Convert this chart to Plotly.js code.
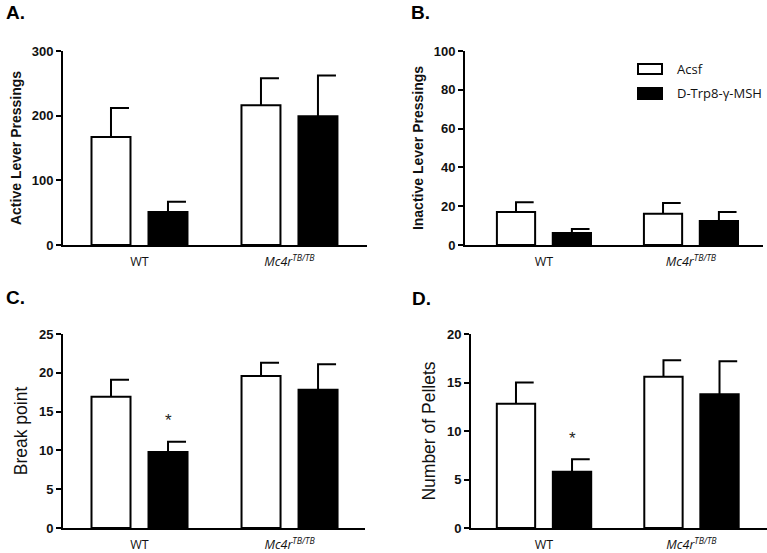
<!DOCTYPE html>
<html>
<head>
<meta charset="utf-8">
<script src="https://cdn.plot.ly/plotly-3.0.1.min.js"></script>
<style>html,body{margin:0;padding:0;background:#fff;}#chart{width:767px;height:553px;}</style>
</head>
<body>
<div id="chart"></div>
<script>
// ---- data ----
const categories = ['WT', '<i>Mc4r<sup>TB/TB</sup></i>'];
const seriesNames = ['Acsf', 'D-Trp8-γ-MSH'];

const activeAcsf = [167, 216];
const activeAcsfErr = [45, 42];
const activeTrp = [51, 199];
const activeTrpErr = [16, 63];

const inactiveAcsf = [17, 16.1];
const inactiveAcsfErr = [5, 5.5];
const inactiveTrp = [6.2, 12.4];
const inactiveTrpErr = [2, 4.6];

const breakAcsf = [16.9, 19.6];
const breakAcsfErr = [2.2, 1.7];
const breakTrp = [9.8, 17.8];
const breakTrpErr = [1.3, 3.3];

const pelletsAcsf = [12.8, 15.6];
const pelletsAcsfErr = [2.2, 1.7];
const pelletsTrp = [5.8, 13.8];
const pelletsTrpErr = [1.3, 3.4];

const yTitles = ['Active Lever Pressings', 'Inactive Lever Pressings', 'Break point', 'Number of Pellets'];
const panelLabels = ['A.', 'B.', 'C.', 'D.'];

// ---- layout helpers ----
const W = 767, H = 553;
const BW = 0.26, OFF = 0.19, CAP = 0.12;
const catX = [0, 1];

const panels = [
  {a: activeAcsf, ae: activeAcsfErr, t: activeTrp, te: activeTrpErr, yr: [0, 300], dt: 100,
   px: [63, 367], py: [51, 245], xr: [-0.51, 1.517], bold: true, tsize: 14},
  {a: inactiveAcsf, ae: inactiveAcsfErr, t: inactiveTrp, te: inactiveTrpErr, yr: [0, 100], dt: 20,
   px: [465, 763], py: [51, 245], xr: [-0.537, 1.49], bold: true, tsize: 14},
  {a: breakAcsf, ae: breakAcsfErr, t: breakTrp, te: breakTrpErr, yr: [0, 25], dt: 5,
   px: [63, 365], py: [334, 528], xr: [-0.51, 1.503], bold: false, tsize: 17.5, star: true},
  {a: pelletsAcsf, ae: pelletsAcsfErr, t: pelletsTrp, te: pelletsTrpErr, yr: [0, 20], dt: 5,
   px: [471, 767], py: [334, 528], xr: [-0.495, 1.512], bold: false, tsize: 17.5, star: true}
];

const traces = [];
const layout = {
  width: W, height: H,
  margin: {l: 0, r: 0, t: 0, b: 0},
  paper_bgcolor: '#fff', plot_bgcolor: 'rgba(0,0,0,0)',
  showlegend: false,
  annotations: [],
  shapes: [],
  font: {family: 'Liberation Sans, Arial', color: '#111'}
};

function errPath(xs, vals, errs) {
  const x = [], y = [];
  for (let i = 0; i < vals.length; i++) {
    x.push(xs[i], xs[i], xs[i] + CAP, null);
    y.push(vals[i], vals[i] + errs[i], vals[i] + errs[i], null);
  }
  return {x, y};
}

const labelPos = [[4, 12], [409, 12], [4, 297], [410, 298]];

panels.forEach((p, k) => {
  const sfx = k === 0 ? '' : String(k + 1);
  const xa = 'x' + sfx, ya = 'y' + sfx;
  const xsA = catX.map(c => c - OFF);
  const xsT = catX.map(c => c + OFF);
  traces.push({type: 'bar', x: xsA, y: p.a, width: BW, xaxis: xa, yaxis: ya,
    name: seriesNames[0],
    marker: {color: '#ffffff', line: {color: '#000', width: 2}}, hoverinfo: 'skip'});
  traces.push({type: 'bar', x: xsT, y: p.t, width: BW, xaxis: xa, yaxis: ya,
    name: seriesNames[1],
    marker: {color: '#000000', line: {color: '#000', width: 2}}, hoverinfo: 'skip'});
  const eA = errPath(xsA, p.a, p.ae);
  const eT = errPath(xsT, p.t, p.te);
  [eA, eT].forEach(e => traces.push({type: 'scatter', mode: 'lines', x: e.x, y: e.y,
    xaxis: xa, yaxis: ya, hoverinfo: 'skip', cliponaxis: false,
    line: {color: '#000', width: 2}}));

  layout['xaxis' + sfx] = {
    domain: [p.px[0] / W, p.px[1] / W], range: p.xr, anchor: ya,
    showgrid: false, zeroline: false, showline: true, linecolor: '#000', linewidth: 2,
    ticks: 'outside', ticklen: 4, tickcolor: 'rgba(0,0,0,0)',
    tickmode: 'array', tickvals: catX, ticktext: categories,
    tickfont: {family: 'Open Sans, Liberation Sans, Arial', size: 12.5, color: '#111'},
    fixedrange: true
  };
  layout['yaxis' + sfx] = {
    domain: [1 - p.py[1] / H, 1 - p.py[0] / H], range: p.yr, anchor: xa,
    showgrid: false, zeroline: false, showline: true, linecolor: '#000', linewidth: 2,
    ticks: 'outside', ticklen: 5, tickwidth: 2, tickcolor: '#000', dtick: p.dt, tick0: 0,
    tickfont: {family: 'Liberation Sans, Arial', size: 13, color: '#111', weight: 'bold'},
    title: {text: yTitles[k], standoff: 7,
      font: {family: 'Liberation Sans, Arial', size: p.tsize, color: '#111', weight: p.bold ? 'bold' : 'normal'}},
    fixedrange: true
  };
  layout.annotations.push({xref: 'paper', yref: 'paper', x: labelPos[k][0] / W, y: 1 - labelPos[k][1] / H,
    xanchor: 'left', yanchor: 'middle', showarrow: false, text: '<b>' + panelLabels[k] + '</b>',
    font: {family: 'Liberation Sans, Arial', size: 19, color: '#000'}});
  if (p.star) {
    layout.annotations.push({xref: xa, yref: ya, x: xsT[0], y: p.t[0] + p.te[0], yshift: 21,
      showarrow: false, text: '*', font: {family: 'Liberation Sans, Arial', size: 17, color: '#222'}});
  }
});

// custom legend (rectangular swatches like the original)
const legendItems = [
  {name: seriesNames[0], fill: '#ffffff', y0: 64, y1: 74},
  {name: seriesNames[1], fill: '#000000', y0: 88, y1: 99}
];
legendItems.forEach(it => {
  layout.shapes.push({type: 'rect', xref: 'paper', yref: 'paper',
    x0: 638 / W, x1: 662 / W, y0: 1 - it.y1 / H, y1: 1 - it.y0 / H,
    fillcolor: it.fill, line: {color: '#000', width: 2}});
  layout.annotations.push({xref: 'paper', yref: 'paper', x: 675 / W, y: 1 - ((it.y0 + it.y1) / 2) / H,
    xanchor: 'left', yanchor: 'middle', showarrow: false, text: it.name,
    font: {family: 'Open Sans, Liberation Sans, Arial', size: 13, color: '#111'}});
});

Plotly.newPlot('chart', traces, layout, {staticPlot: true});
</script>
</body>
</html>
